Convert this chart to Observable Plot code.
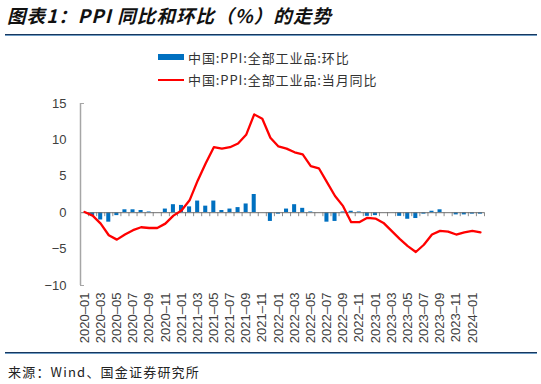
<!DOCTYPE html>
<html>
<head>
<meta charset="utf-8">
<script src="https://cdn.jsdelivr.net/npm/d3@7"></script>
<script src="https://cdn.jsdelivr.net/npm/@observablehq/plot@0.6"></script>
<style>
  html, body { margin: 0; padding: 0; background: #fff; }
  #page { position: relative; width: 541px; height: 384px; overflow: hidden; font-family: "Liberation Sans", Arial, sans-serif; }
  #title { position: absolute; left: 7px; top: 2px; font: italic bold 18.5px "Noto Sans CJK SC", sans-serif; letter-spacing: 1.1px; color: #111; white-space: nowrap; }
  .band { position: absolute; left: 5px; width: 532px; }
  .band .dark { height: 1px; background: #17375e; }
  .band .light { height: 1px; background: #6f9cc4; }
  #legend { position: absolute; left: 158px; top: 46px; font: 13px "Noto Sans CJK SC", sans-serif; color: #333; }
  .item { display: flex; align-items: center; height: 22.5px; white-space: nowrap; letter-spacing: 0.9px; }
  .sw { width: 26px; margin-right: 4px; }
  #chart { position: absolute; left: 0; top: 92px; }
  #source { position: absolute; left: 8px; top: 362px; font: 13px "Noto Sans CJK SC", sans-serif; color: #222; letter-spacing: 1.2px; white-space: nowrap; }
</style>
</head>
<body>
<div id="page">
  <div id="title">图表1：PPI 同比和环比（%）的走势</div>
  <div class="band" style="top:34px"><div class="dark"></div><div class="light"></div></div>
  <div id="legend"></div>
  <div id="chart"></div>
  <div class="band" style="top:352px"><div class="dark"></div><div class="light"></div></div>
  <div id="source">来源：Wind、国金证券研究所</div>
</div>
<script>
// Monthly PPI for all industrial products, 2020-01 to 2024-02
const months = [
  "2020-01","2020-02","2020-03","2020-04","2020-05","2020-06","2020-07","2020-08","2020-09","2020-10","2020-11","2020-12",
  "2021-01","2021-02","2021-03","2021-04","2021-05","2021-06","2021-07","2021-08","2021-09","2021-10","2021-11","2021-12",
  "2022-01","2022-02","2022-03","2022-04","2022-05","2022-06","2022-07","2022-08","2022-09","2022-10","2022-11","2022-12",
  "2023-01","2023-02","2023-03","2023-04","2023-05","2023-06","2023-07","2023-08","2023-09","2023-10","2023-11","2023-12",
  "2024-01","2024-02"
];
// year-on-year change, %
const yoy = [
  0.1, -0.4, -1.5, -3.1, -3.7, -3.0, -2.4, -2.0, -2.1, -2.1, -1.5, -0.4,
  0.3, 1.7, 4.4, 6.8, 9.0, 8.8, 9.0, 9.5, 10.7, 13.5, 12.9, 10.3,
  9.1, 8.8, 8.3, 8.0, 6.4, 6.1, 4.2, 2.3, 0.9, -1.3, -1.3, -0.7,
  -0.8, -1.4, -2.5, -3.6, -4.6, -5.4, -4.4, -3.0, -2.5, -2.6, -3.0, -2.7,
  -2.5, -2.7
];
// month-on-month change, %
const mom = [
  0.0, -0.5, -1.0, -1.3, -0.4, 0.4, 0.4, 0.3, 0.1, 0.0, 0.5, 1.1,
  1.0, 0.8, 1.6, 0.9, 1.6, 0.3, 0.5, 0.7, 1.2, 2.5, 0.0, -1.2,
  -0.2, 0.5, 1.1, 0.6, 0.1, 0.0, -1.3, -1.2, 0.1, 0.2, 0.1, -0.5,
  -0.4, 0.0, 0.0, -0.5, -0.9, -0.8, -0.2, 0.2, 0.4, 0.0, -0.3, -0.3,
  -0.2, -0.2
];
const yTicks = [15, 10, 5, 0, -5, -10];
const seriesNames = ["中国:PPI:全部工业品:环比", "中国:PPI:全部工业品:当月同比"];
const seriesColors = ["#0070c0", "#ff0000"];

// legend
const legend = document.getElementById("legend");
seriesNames.forEach((name, k) => {
  const item = document.createElement("div");
  item.className = "item";
  const sw = document.createElement("span");
  sw.className = "sw";
  sw.style.height = k === 0 ? "6px" : "2px";
  sw.style.background = seriesColors[k];
  item.appendChild(sw);
  item.appendChild(document.createTextNode(name));
  legend.appendChild(item);
});

const rows = months.map((m, i) => ({i, month: m, yoy: yoy[i], mom: mom[i]}));
const n = months.length;
const labelIdx = d3.range(0, n, 2);
const bounds = d3.range(n + 1).map(k => k - 0.5);

const chart = Plot.plot({
  width: 541,
  height: 258,
  marginLeft: 80,
  marginRight: 57,
  marginTop: 11,
  marginBottom: 65,
  style: {fontFamily: '"Liberation Sans", Arial, sans-serif', fontSize: "13px", color: "#404040", background: "transparent"},
  x: {type: "linear", domain: [-0.5, n - 0.5], axis: null},
  y: {domain: [-10, 15], axis: null},
  marks: [
    Plot.rectY(rows, {x1: d => d.i - 0.25, x2: d => d.i + 0.25, y1: 0, y2: "mom", fill: seriesColors[0]}),
    Plot.ruleX(bounds, {x: d => d, y1: 0, y2: 0, insetBottom: -4, stroke: "#8c8c8c"}),
    Plot.ruleY([0], {stroke: "#6e6e6e", strokeWidth: 1}),
    Plot.ruleX([-0.5], {stroke: "#a6a6a6", strokeWidth: 1.5}),
    Plot.ruleY([15, -10], {x1: -0.5, x2: -0.5, insetRight: -4, stroke: "#a6a6a6"}),
    Plot.axisY({ticks: yTicks, tickSize: 0, tickPadding: 14, tickFormat: d3.format("d")}),
    Plot.axisX({ticks: labelIdx, tickSize: 0, tickPadding: 7, tickRotate: -90, label: null,
      tickFormat: i => months[i].replace("-", "–")}),
    Plot.line(rows, {x: "i", y: "yoy", stroke: seriesColors[1], strokeWidth: 2.3})
  ]
});
document.getElementById("chart").appendChild(chart);
</script>
</body>
</html>
